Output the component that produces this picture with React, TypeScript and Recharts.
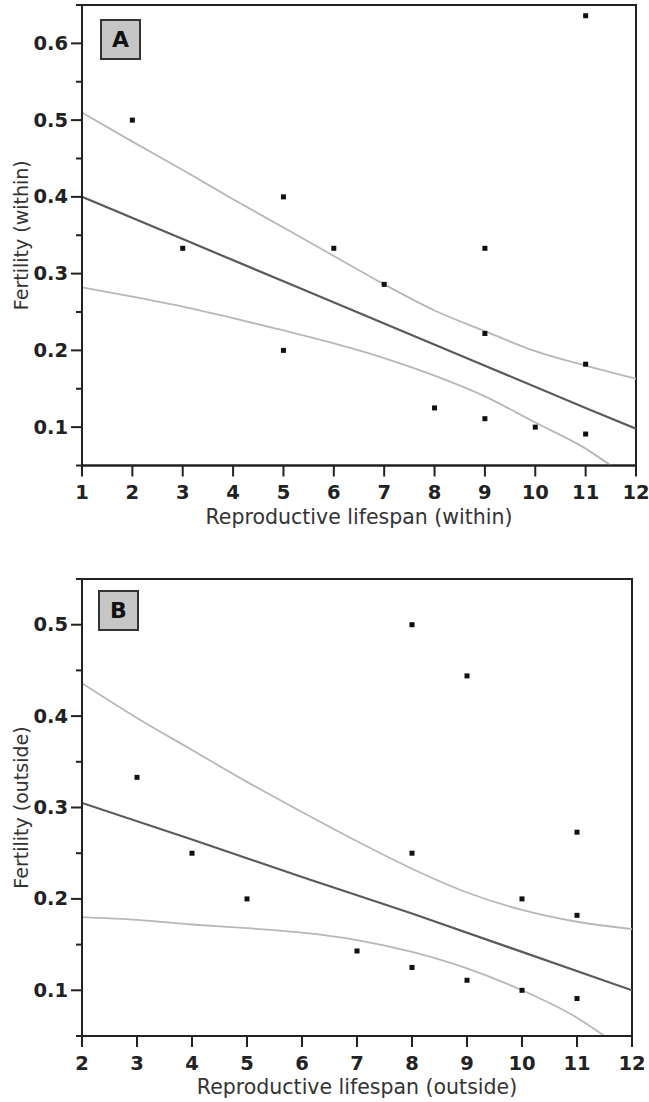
import React from 'react';
import { ComposedChart, Scatter, Line, XAxis, YAxis, ReferenceArea } from 'recharts';

// ---------- Panel A (within) ----------
const pointsA = [
  { x: 2, y: 0.5 }, { x: 3, y: 0.333 }, { x: 5, y: 0.4 }, { x: 5, y: 0.2 },
  { x: 6, y: 0.333 }, { x: 7, y: 0.286 }, { x: 8, y: 0.125 }, { x: 9, y: 0.333 },
  { x: 9, y: 0.222 }, { x: 9, y: 0.111 }, { x: 10, y: 0.1 }, { x: 11, y: 0.636 },
  { x: 11, y: 0.182 }, { x: 11, y: 0.091 },
];
const fitA = [
  { x: 1, y: 0.4 }, { x: 3, y: 0.345 }, { x: 5, y: 0.29 }, { x: 7, y: 0.235 },
  { x: 9, y: 0.18 }, { x: 11, y: 0.125 }, { x: 12, y: 0.098 },
];
const upperA = [
  { x: 1, y: 0.51 }, { x: 2, y: 0.472 }, { x: 3, y: 0.435 }, { x: 4, y: 0.397 },
  { x: 5, y: 0.36 }, { x: 6, y: 0.323 }, { x: 7, y: 0.286 }, { x: 8, y: 0.252 },
  { x: 9, y: 0.225 }, { x: 10, y: 0.199 }, { x: 11, y: 0.18 }, { x: 12, y: 0.163 },
];
const lowerA = [
  { x: 1, y: 0.282 }, { x: 2, y: 0.27 }, { x: 3, y: 0.257 }, { x: 4, y: 0.242 },
  { x: 5, y: 0.226 }, { x: 6, y: 0.209 }, { x: 7, y: 0.19 }, { x: 8, y: 0.167 },
  { x: 9, y: 0.14 }, { x: 10, y: 0.106 }, { x: 11, y: 0.072 }, { x: 11.5, y: 0.05 },
];
const xTicksA = [1, 2, 3, 4, 5, 6, 7, 8, 9, 10, 11, 12];
const yTicksA = [0.05, 0.1, 0.15, 0.2, 0.25, 0.3, 0.35, 0.4, 0.45, 0.5, 0.55, 0.6, 0.65];

// ---------- Panel B (outside) ----------
const pointsB = [
  { x: 3, y: 0.333 }, { x: 4, y: 0.25 }, { x: 5, y: 0.2 }, { x: 7, y: 0.143 },
  { x: 8, y: 0.5 }, { x: 8, y: 0.25 }, { x: 8, y: 0.125 }, { x: 9, y: 0.444 },
  { x: 9, y: 0.111 }, { x: 10, y: 0.2 }, { x: 10, y: 0.1 }, { x: 11, y: 0.273 },
  { x: 11, y: 0.182 }, { x: 11, y: 0.091 },
];
const fitB = [
  { x: 2, y: 0.305 }, { x: 4, y: 0.265 }, { x: 6, y: 0.224 }, { x: 8, y: 0.184 },
  { x: 10, y: 0.142 }, { x: 12, y: 0.1 },
];
const upperB = [
  { x: 2, y: 0.436 }, { x: 3, y: 0.398 }, { x: 4, y: 0.363 }, { x: 5, y: 0.328 },
  { x: 6, y: 0.295 }, { x: 7, y: 0.263 }, { x: 8, y: 0.233 }, { x: 9, y: 0.207 },
  { x: 10, y: 0.188 }, { x: 11, y: 0.175 }, { x: 12, y: 0.167 },
];
const lowerB = [
  { x: 2, y: 0.18 }, { x: 3, y: 0.177 }, { x: 4, y: 0.172 }, { x: 5, y: 0.168 },
  { x: 6, y: 0.163 }, { x: 7, y: 0.155 }, { x: 8, y: 0.142 }, { x: 9, y: 0.124 },
  { x: 10, y: 0.1 }, { x: 11, y: 0.07 }, { x: 11.5, y: 0.05 },
];
const xTicksB = [2, 3, 4, 5, 6, 7, 8, 9, 10, 11, 12];
const yTicksB = [0.05, 0.1, 0.15, 0.2, 0.25, 0.3, 0.35, 0.4, 0.45, 0.5, 0.55];

const FONT = '"DejaVu Sans", Verdana, sans-serif';
const AXIS = '#222';

const isMajor = (v: number) => Math.abs(v * 10 - Math.round(v * 10)) < 1e-6;

const YTick = (props: any) => {
  const { x, y, payload } = props;
  const v = payload.value as number;
  const major = isMajor(v);
  return (
    <g>
      <line x1={x - (major ? 11 : 6)} x2={x} y1={y} y2={y} stroke={AXIS} strokeWidth={2} />
      {major && (
        <text x={x - 14} y={y} textAnchor="end" dominantBaseline="central"
          fontFamily={FONT} fontWeight="bold" fontSize={19.5} fill="#222">
          {v.toFixed(1)}
        </text>
      )}
    </g>
  );
};

const XTick = (props: any) => {
  const { x, y, payload } = props;
  return (
    <g>
      <line x1={x} x2={x} y1={y} y2={y + 11} stroke={AXIS} strokeWidth={2} />
      <text x={x} y={y + 27} textAnchor="middle" dominantBaseline="central"
        fontFamily={FONT} fontWeight="bold" fontSize={19.5} fill="#222">
        {payload.value}
      </text>
    </g>
  );
};

const Square = (props: any) => {
  const { cx, cy } = props;
  return <rect x={cx - 2.5} y={cy - 2.5} width={5} height={5} fill="#111" />;
};

type PanelProps = {
  width: number;
  height: number;
  margin: { top: number; right: number; bottom: number; left: number };
  xDomain: [number, number];
  yDomain: [number, number];
  xTicks: number[];
  yTicks: number[];
  points: { x: number; y: number }[];
  fit: { x: number; y: number }[];
  upper: { x: number; y: number }[];
  lower: { x: number; y: number }[];
  xTitle: string;
  yTitle: string;
};

const Panel = (p: PanelProps) => (
  <ComposedChart width={p.width} height={p.height} margin={p.margin}>
    <XAxis type="number" dataKey="x" domain={p.xDomain} ticks={p.xTicks} allowDataOverflow
      height={58} tickSize={0} tickMargin={0} tickLine={false} interval={0}
      axisLine={{ stroke: AXIS, strokeWidth: 2 }} tick={<XTick />}
      label={{ value: p.xTitle, position: 'insideBottom', offset: 0,
        style: { fontFamily: FONT, fontSize: 20.5, fill: '#333' } }} />
    <YAxis type="number" dataKey="y" domain={p.yDomain} ticks={p.yTicks} allowDataOverflow
      width={82} tickSize={0} tickMargin={0} tickLine={false} interval={0}
      axisLine={{ stroke: AXIS, strokeWidth: 2 }} tick={<YTick />}
      label={{ value: p.yTitle, angle: -90, position: 'insideLeft', offset: 21,
        style: { fontFamily: FONT, fontSize: 19, fill: '#333', textAnchor: 'middle' } }} />
    <ReferenceArea x1={p.xDomain[0]} x2={p.xDomain[1]} y1={p.yDomain[0]} y2={p.yDomain[1]}
      fill="none" fillOpacity={0} stroke={AXIS} strokeWidth={2} strokeOpacity={1} />
    <Line data={p.upper} dataKey="y" type="monotone" stroke="#b8b8b8" strokeWidth={1.8}
      dot={false} activeDot={false} isAnimationActive={false} />
    <Line data={p.lower} dataKey="y" type="monotone" stroke="#b8b8b8" strokeWidth={1.8}
      dot={false} activeDot={false} isAnimationActive={false} />
    <Line data={p.fit} dataKey="y" type="linear" stroke="#5a5a5a" strokeWidth={2.2}
      dot={false} activeDot={false} isAnimationActive={false} />
    <Scatter data={p.points} dataKey="y" shape={<Square />} isAnimationActive={false} />
  </ComposedChart>
);

const boxStyle = (top: number, left: number): React.CSSProperties => ({
  position: 'absolute', top, left, width: 41, height: 41, boxSizing: 'border-box',
  border: '2px solid #333', background: '#c6c6c6', display: 'flex',
  alignItems: 'center', justifyContent: 'center', fontFamily: FONT,
  fontWeight: 'bold', fontSize: 22, color: '#111',
});

export default function App() {
  return (
    <div style={{ position: 'absolute', left: 0, top: 0, width: 649, height: 1102, background: '#fff' }}>
      <div style={{ position: 'absolute', left: 0, top: 0 }}>
        <Panel width={649} height={540} margin={{ top: 5, right: 13, bottom: 16.5, left: 0 }}
          xDomain={[1, 12]} yDomain={[0.05, 0.65]} xTicks={xTicksA} yTicks={yTicksA}
          points={pointsA} fit={fitA} upper={upperA} lower={lowerA}
          xTitle="Reproductive lifespan (within)" yTitle="Fertility (within)" />
      </div>
      <div style={{ position: 'absolute', left: 0, top: 540 }}>
        <Panel width={649} height={562} margin={{ top: 39, right: 17, bottom: 8, left: 0 }}
          xDomain={[2, 12]} yDomain={[0.05, 0.55]} xTicks={xTicksB} yTicks={yTicksB}
          points={pointsB} fit={fitB} upper={upperB} lower={lowerB}
          xTitle="Reproductive lifespan (outside)" yTitle="Fertility (outside)" />
      </div>
      <div style={boxStyle(19, 100)}>A</div>
      <div style={boxStyle(590, 98)}>B</div>
    </div>
  );
}
